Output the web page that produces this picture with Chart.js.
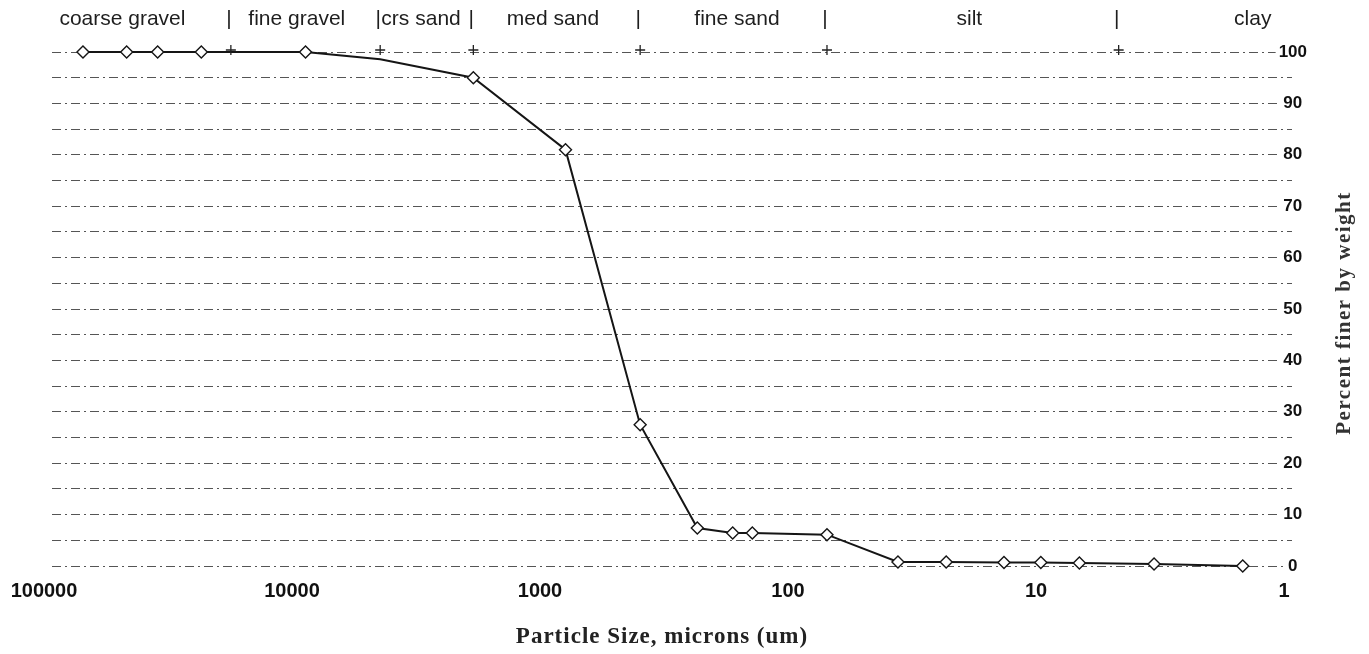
<!DOCTYPE html>
<html>
<head>
<meta charset="utf-8">
<script src="https://cdn.jsdelivr.net/npm/chart.js@4.4.1/dist/chart.umd.min.js"></script>
<style>
  html, body { margin: 0; padding: 0; background: #fff; }
  #grain { display: block; }
</style>
</head>
<body>
<canvas id="grain" width="1369" height="654"></canvas>
<script>
// sieve + hydrometer readings, particle size in microns
const sizes = [75000, 50000, 37500, 25000, 9500, 4750, 2000, 850, 425, 250, 180, 150, 75, 38.8, 24.8, 14.5, 10.3, 7.2, 3.6, 1.58];
const percentFiner = [100, 100, 100, 100, 100, 98.6, 95, 81, 27.5, 7.4, 6.4, 6.4, 6.1, 0.8, 0.8, 0.7, 0.7, 0.6, 0.4, 0];
// the No.4 reading has no marker on the sheet
const unmarkedSizes = [4750];

const xTicks = [100000, 10000, 1000, 100, 10, 1];
const yTicks = [0, 5, 10, 15, 20, 25, 30, 35, 40, 45, 50, 55, 60, 65, 70, 75, 80, 85, 90, 95, 100];

// soil classes along the top
const classNames = ['coarse gravel', 'fine gravel', 'crs sand', 'med sand', 'fine sand', 'silt', 'clay'];
const classCentres = [52000, 10300, 3250, 955, 173, 20, 1.44];
const classBounds = [19000, 4750, 2000, 425, 75, 5];

const xTitle = 'Particle Size, microns (um)';
const yTitle = 'Percent finer by weight';

// class labels, boundary bars and the two titles drawn straight on the canvas
const sheetMarks = {
    id: 'sheetMarks',
    afterDraw(chart) {
        const { ctx, chartArea } = chart;
        const x = chart.scales.x;
        const y = chart.scales.y;
        ctx.save();
        ctx.fillStyle = '#1e1e1e';
        ctx.font = '21px "Liberation Sans", Arial, sans-serif';
        ctx.textAlign = 'center';
        ctx.textBaseline = 'middle';
        for (var i = 0; i < classNames.length; i++) {
            ctx.fillText(classNames[i], x.getPixelForValue(classCentres[i]), 19);
        }
        classBounds.forEach(function (b) {
            ctx.fillText('|', x.getPixelForValue(b) - 2, 19);
        });

        // little crosses on the 100 line at each class boundary
        ctx.strokeStyle = '#222';
        ctx.lineWidth = 1.3;
        const y100 = y.getPixelForValue(100);
        classBounds.forEach(function (b) {
            const px = x.getPixelForValue(b);
            ctx.beginPath();
            ctx.moveTo(px - 5, y100 - 2);
            ctx.lineTo(px + 5, y100 - 2);
            ctx.moveTo(px, y100 - 7);
            ctx.lineTo(px, y100 + 3);
            ctx.stroke();
        });

        // x title
        ctx.letterSpacing = '1px';
        ctx.font = 'bold 23px "Liberation Serif", "Times New Roman", serif';
        ctx.fillStyle = '#222';
        ctx.fillText(xTitle, (chartArea.left + chartArea.right) / 2 - 10, 637);

        // y title, reading upwards
        ctx.letterSpacing = '1.5px';
        ctx.translate(1345, (chartArea.top + chartArea.bottom) / 2 + 4);
        ctx.rotate(-Math.PI / 2);
        ctx.font = 'bold 21px "Liberation Serif", "Times New Roman", serif';
        ctx.fillStyle = '#333';
        ctx.fillText(yTitle, 0, 0);
        ctx.restore();
    }
};

const canvas = document.getElementById('grain');
const chart = new Chart(canvas, {
    type: 'line',
    data: {
        datasets: [{
            label: 'percent finer',
            data: sizes.map(function (s, i) { return { x: s, y: percentFiner[i] }; }),
            borderColor: '#151515',
            borderWidth: 2,
            tension: 0,
            clip: false,
            pointStyle: 'rectRot',
            pointRadius: function (c) { return unmarkedSizes.includes(sizes[c.dataIndex]) ? 0 : 6; },
            pointBackgroundColor: '#fff',
            pointBorderColor: '#151515',
            pointBorderWidth: 1.4
        }]
    },
    options: {
        responsive: false,
        animation: false,
        devicePixelRatio: 1,
        layout: { padding: { top: 52, left: 52, right: 47, bottom: 38 } },
        plugins: {
            legend: { display: false },
            tooltip: { enabled: false }
        },
        scales: {
            x: {
                type: 'logarithmic',
                min: 1,
                max: 100000,
                reverse: true,
                afterBuildTicks: function (axis) {
                    axis.ticks = xTicks.map(function (v) { return { value: v }; });
                },
                grid: { display: false, drawTicks: false },
                border: { display: false },
                ticks: {
                    padding: 13,
                    labelOffset: -8,
                    autoSkip: false,
                    maxRotation: 0,
                    color: '#111',
                    font: { family: '"Liberation Sans", Arial, sans-serif', size: 20, weight: 'bold' },
                    callback: function (v) { return String(v); }
                }
            },
            y: {
                position: 'right',
                min: 0,
                max: 100,
                afterBuildTicks: function (axis) {
                    axis.ticks = yTicks.map(function (v) { return { value: v }; });
                },
                grid: { color: '#555', lineWidth: 1, drawTicks: false },
                border: { display: false, dash: [9, 4, 2, 4] },
                ticks: {
                    mirror: true,
                    padding: 15,
                    crossAlign: 'center',
                    color: '#111',
                    showLabelBackdrop: true,
                    backdropPadding: { x: 3, y: 0 },
                    backdropColor: function (c) { return c.tick && c.tick.value % 10 === 0 ? '#fff' : 'rgba(255,255,255,0)'; },
                    font: { family: '"Liberation Sans", Arial, sans-serif', size: 17, weight: 'bold' },
                    callback: function (v) { return v % 10 === 0 ? v : ''; }
                }
            }
        }
    },
    plugins: [sheetMarks]
});
</script>
</body>
</html>
